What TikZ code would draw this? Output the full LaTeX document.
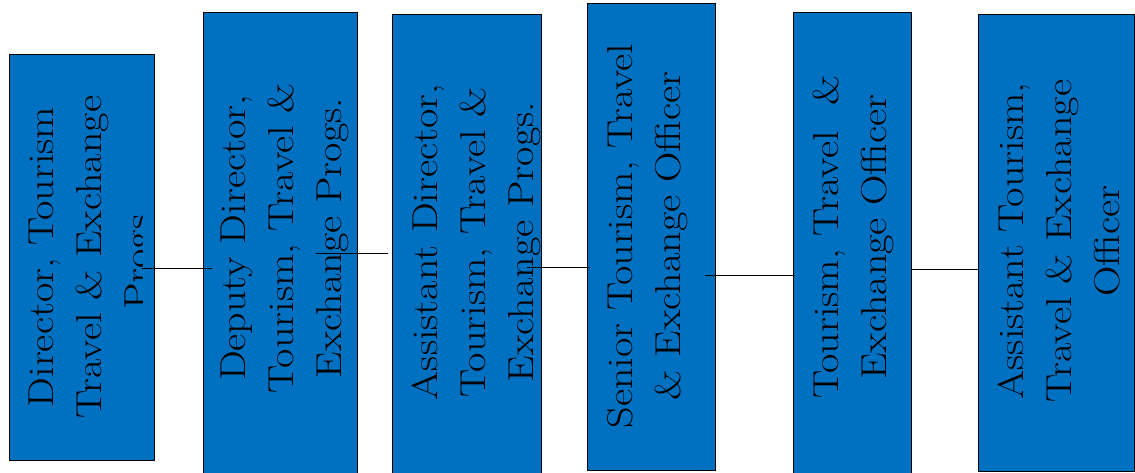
\documentclass[tikz,border=0pt]{standalone}
\usepackage{graphicx}
\definecolor{boxblue}{HTML}{0070C0}
\tikzset{
  post/.style={draw=black, line width=0.9pt, fill=boxblue, inner sep=0pt, rectangle},
  posttext/.style={inner sep=0pt, text=black},
  link/.style={draw=black, line width=0.9pt},
}
% rotated title block: lines set bottom-to-top, widened
\newcommand{\vtitle}[1]{\rotatebox{90}{\scalebox{1.17}[1]{\fontsize{36}{48}\selectfont
  \begin{tabular}{@{}c@{}}#1\end{tabular}}}}
\begin{document}
\begin{tikzpicture}[x=1pt, y=-1pt]
\clip (0,0) rectangle (1135,473);
\fill[white] (0,0) rectangle (1135,473);

% posts
\node[post, minimum width=145pt, minimum height=406pt] (b1) at (81.5,257) {};
\node[post, minimum width=154pt, minimum height=468pt] (b2) at (280,246) {};
\node[post, minimum width=149pt, minimum height=466pt] (b3) at (466.5,247) {};
\node[post, minimum width=128pt, minimum height=467pt] (b4) at (651,236.5) {};
\node[post, minimum width=118pt, minimum height=468pt] (b5) at (852,246) {};
\node[post, minimum width=156pt, minimum height=457pt] (b6) at (1056,242.5) {};

% titles (the first one runs past its frame and is cut off)
\begin{scope}
  \clip (0,0) rectangle (142,473);
  \node[posttext] (t1) at (91.4,257) {\vtitle{Director, Tourism\\Travel \& Exchange\\Progs.}};
\end{scope}
\node[posttext] (t2) at (283.4,238) {\vtitle{Deputy Director,\\Tourism, Travel \&\\Exchange Progs.}};
\node[posttext] (t3) at (475.4,242) {\vtitle{Assistant Director,\\Tourism, Travel \&\\Exchange Progs.}};
\node[posttext] (t4) at (646.4,236) {\vtitle{Senior Tourism, Travel\\\& Exchange Officer}};
\node[posttext] (t5) at (852.4,237) {\vtitle{Tourism, Travel\ \ \&\\Exchange Officer}};
\node[posttext] (t6) at (1061.4,241) {\vtitle{Assistant Tourism,\\Travel \& Exchange\\Officer}};

% connector ends
\coordinate (c1a) at (142,268);   \coordinate (c1b) at (212,268);
\coordinate (c2a) at (316,253);   \coordinate (c2b) at (388,253);
\coordinate (c3a) at (527,267);   \coordinate (c3b) at (590,267);
\coordinate (c4a) at (705,275);   \coordinate (c4b) at (795,275);
\coordinate (c5a) at (911,269);   \coordinate (c5b) at (979,269);

\draw[link] (c1a) -- (c1b);
\draw[link] (c2a) -- (c2b);
\draw[link] (c3a) -- (c3b);
\draw[link] (c4a) -- (c4b);
\draw[link] (c5a) -- (c5b);
\end{tikzpicture}
\end{document}
